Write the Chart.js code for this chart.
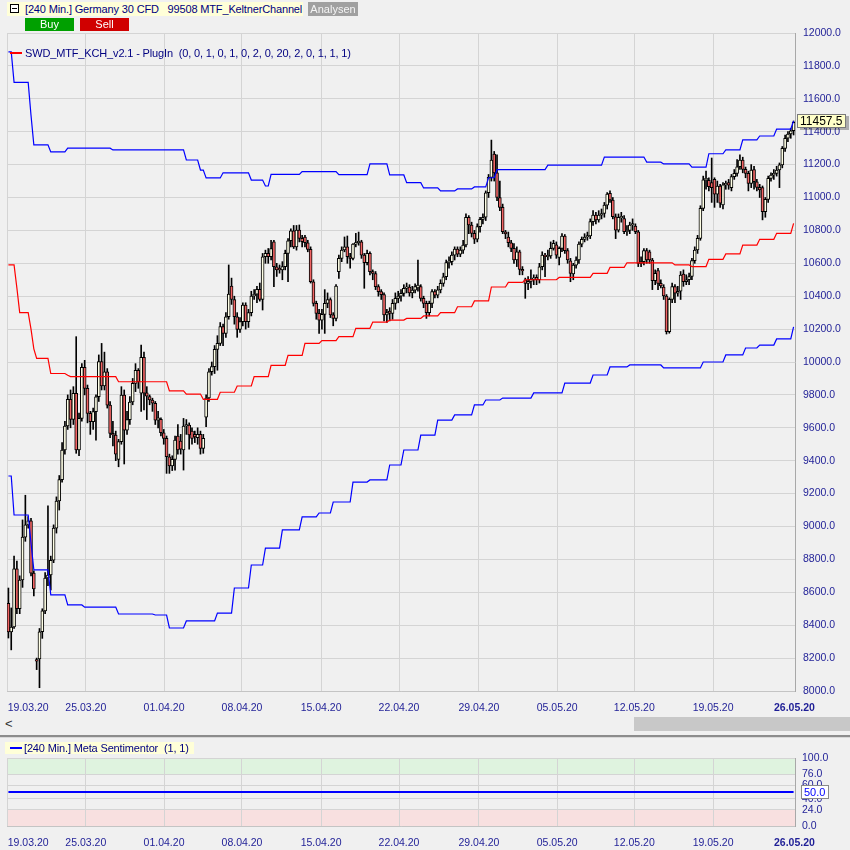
<!DOCTYPE html>
<html>
<head>
<meta charset="utf-8">
<script src="https://cdn.jsdelivr.net/npm/chart.js@4.4.1/dist/chart.umd.min.js"></script>
<style>
  html, body { margin: 0; padding: 0; width: 850px; height: 850px; overflow: hidden; background: #f0f0f0;
    font-family: "Liberation Sans", Arial, sans-serif; }
  canvas { position: absolute; left: 0; }
  #mainChart { top: 0; }
  #subChart { top: 738px; }
  .abs { position: absolute; white-space: pre; }
  .hdr { left: 7px; top: 2px; width: 296px; height: 14px; background: #ffffd8; color: #000080; font-size: 11px; letter-spacing: -0.15px; line-height: 14px; }
  .icon { left: 10px; top: 4px; width: 7px; height: 7px; border: 1px solid #000; background: #fff; }
  .icon:after { content: ""; position: absolute; left: 1px; top: 3px; width: 5px; height: 1px; background: #000; }
  .btn { height: 13px; font-size: 11px; line-height: 13px; text-align: center; color: #fff; }
  .legend { color: #000080; font-size: 11px; letter-spacing: -0.15px; line-height: 14px; }
</style>
</head>
<body>
<canvas id="mainChart" width="850" height="713"></canvas>
<canvas id="subChart" width="850" height="112"></canvas>

<div class="abs hdr"><span style="margin-left:18px">[240 Min.] Germany 30 CFD   99508 MTF_KeltnerChannel</span></div>
<div class="abs icon"></div>
<div class="abs btn" style="left:308px;top:2px;width:50px;height:14px;line-height:14px;background:#a0a0a0;color:#f4f4f4;">Analysen</div>
<div class="abs btn" style="left:25px;top:18px;width:49px;background:#00a000;">Buy</div>
<div class="abs btn" style="left:80px;top:18px;width:49px;background:#d00000;">Sell</div>

<div class="abs" style="left:10px;top:52px;width:12px;height:2px;background:#ff0000;"></div>
<div class="abs legend" style="left:25px;top:46px;">SWD_MTF_KCH_v2.1 - PlugIn  (0, 0, 1, 0, 1, 0, 2, 0, 20, 2, 0, 1, 1, 1)</div>

<div class="abs" style="left:0;top:716px;width:850px;height:16px;background:#f0f0f0;"></div>
<div class="abs" style="left:634px;top:717px;width:216px;height:14px;background:#c8c8c8;"></div>
<div class="abs" style="left:5px;top:716px;font-size:13px;color:#333;">&lt;</div>
<div class="abs" style="left:0;top:735px;width:850px;height:2px;background:#8c8c8c;"></div>
<div class="abs" style="left:0;top:737px;width:850px;height:1px;background:#d8d8d8;"></div>

<div class="abs" style="left:5px;top:742px;width:189px;height:12px;background:#ffffd8;"></div>
<div class="abs" style="left:10px;top:747px;width:12px;height:2px;background:#0000ff;"></div>
<div class="abs legend" style="left:24px;top:741px;">[240 Min.] Meta Sentimentor  (1, 1)</div>

<script>
// 240-min candles (bar index 0 .. 278)
const opens = [8533,8359,8389,8742,8500,8675,8935,9010,9035,8717,
  8190,8195,8360,8487,8687,8705,8795,8990,9155,9285,
  9465,9611,9773,9651,9809,9465,9657,9967,9840,9688,
  9637,9698,9789,10002,9854,9940,9738,9566,9556,9408,
  9516,9799,9586,9650,9757,9870,9950,9810,10028,9813,
  9790,9769,9748,9647,9651,9570,9536,9424,9368,9408,
  9550,9520,9465,9611,9617,9580,9560,9540,9560,9475,
  9664,9781,9941,9972,10077,10113,10215,10174,10275,10462,
  10380,10275,10198,10245,10346,10245,10300,10401,10412,10442,
  10381,10640,10660,10640,10731,10579,10570,10560,10580,10660,
  10737,10798,10700,10802,10752,10760,10725,10685,10488,10356,
  10296,10255,10290,10356,10380,10286,10265,10549,10630,10681,
  10700,10640,10630,10717,10725,10730,10650,10604,10660,10549,
  10538,10458,10428,10410,10286,10310,10296,10356,10387,10400,
  10417,10448,10455,10420,10437,10450,10458,10387,10356,10300,
  10356,10428,10407,10438,10478,10518,10604,10610,10650,10687,
  10656,10680,10711,10879,10833,10782,10746,10823,10867,10880,
  11029,11122,11264,11150,11000,10940,10792,10760,10725,10691,
  10620,10670,10563,10500,10478,10490,10502,10515,10500,10579,
  10650,10640,10645,10691,10712,10636,10691,10766,10677,10615,
  10535,10589,10620,10717,10745,10760,10766,10853,10893,10863,
  10893,10903,10954,11025,10985,10883,10802,10876,10872,10792,
  10800,10833,10826,10792,10600,10610,10677,10670,10620,10494,
  10555,10478,10455,10401,10185,10381,10458,10418,10430,10535,
  10488,10500,10520,10616,10681,10752,10934,11107,11105,11090,
  11110,11021,11070,10955,11077,11090,11060,11127,11147,11187,
  11228,11171,11147,11086,11170,11096,11062,11060,10914,10989,
  11116,11137,11147,11167,11198,11299,11360,11386,11406];

const highs = [8626,8505,8820,8790,8700,9040,9190,9060,9050,8730,
  8200,8380,8500,8720,9125,8820,9010,9180,9310,9510,
  9640,9800,9830,9850,10154,9690,9990,10010,9860,9700,
  9720,9800,10043,10113,10060,9960,9760,9640,9580,9530,
  9850,9830,9700,9790,9900,9990,9960,10103,10060,9850,
  9800,9780,9760,9700,9660,9590,9550,9440,9430,9550,
  9620,9560,9657,9650,9630,9600,9580,9600,9580,9560,
  9800,9960,10000,10100,10160,10240,10230,10300,10590,10510,
  10400,10300,10270,10360,10360,10320,10430,10440,10460,10480,
  10660,10680,10690,10740,10740,10600,10590,10610,10680,10750,
  10810,10830,10830,10833,10770,10770,10740,10700,10500,10370,
  10320,10320,10440,10420,10390,10300,10470,10650,10700,10760,
  10766,10660,10720,10782,10790,10740,10660,10680,10670,10560,
  10550,10470,10440,10420,10320,10330,10380,10420,10430,10440,
  10470,10480,10470,10460,10475,10620,10470,10400,10370,10370,
  10440,10440,10460,10500,10540,10620,10640,10670,10700,10700,
  10700,10740,10900,10890,10850,10800,10840,10880,10900,11040,
  11140,11349,11280,11260,11100,10960,10800,10790,10740,10720,
  10700,10680,10580,10510,10520,10560,10530,10530,10600,10670,
  10660,10680,10730,10740,10730,10700,10780,10775,10690,10630,
  10600,10640,10730,10760,10780,10790,10870,10920,10910,10920,
  10930,10970,11030,11040,11000,10900,10900,10910,10890,10830,
  10850,10870,10840,10800,10640,10690,10690,10680,10630,10560,
  10570,10500,10470,10410,10390,10480,10470,10460,10550,10560,
  10530,10540,10630,10700,10770,10950,11130,11160,11120,11240,
  11120,11100,11080,11090,11100,11110,11140,11170,11230,11260,
  11245,11185,11160,11200,11190,11110,11080,11070,11000,11130,
  11150,11170,11190,11210,11310,11380,11400,11420,11465];

const lows = [8322,8250,8380,8470,8470,8630,8910,8990,8700,8578,
  8130,8020,8320,8470,8640,8614,8780,8960,9100,9270,
  9440,9590,9600,9620,9445,9430,9640,9800,9630,9560,
  9590,9525,9760,9830,9830,9720,9540,9490,9400,9363,
  9500,9380,9560,9620,9740,9820,9840,9700,9708,9650,
  9740,9700,9620,9600,9550,9500,9323,9323,9340,9343,
  9440,9440,9343,9560,9470,9500,9510,9500,9440,9445,
  9607,9760,9920,9930,9950,10100,10100,10150,10260,10350,
  10230,10150,10180,10220,10200,10210,10280,10380,10360,10370,
  10316,10600,10600,10620,10458,10520,10540,10500,10560,10488,
  10700,10690,10680,10730,10700,10700,10670,10480,10340,10260,
  10174,10200,10174,10330,10270,10220,10250,10508,10610,10670,
  10600,10570,10620,10700,10710,10630,10448,10590,10530,10500,
  10440,10400,10380,10250,10240,10250,10260,10320,10360,10370,
  10400,10420,10400,10390,10420,10430,10370,10330,10265,10280,
  10330,10390,10390,10420,10460,10500,10570,10590,10620,10640,
  10640,10660,10700,10780,10760,10720,10730,10790,10840,10860,
  11000,11100,11100,10980,10920,10780,10750,10700,10670,10600,
  10580,10530,10530,10387,10440,10450,10470,10470,10480,10560,
  10518,10620,10630,10680,10630,10590,10670,10660,10600,10488,
  10500,10570,10600,10700,10730,10740,10750,10830,10840,10850,
  10870,10880,10930,10970,10870,10750,10790,10850,10780,10770,
  10780,10800,10780,10580,10580,10590,10600,10600,10440,10470,
  10440,10450,10380,10170,10175,10360,10360,10400,10380,10460,
  10470,10470,10500,10600,10660,10740,10920,11050,11040,10970,
  10940,10970,10940,10930,11050,11050,11040,11110,11130,11170,
  11150,11120,11040,11060,11050,11040,11000,10864,10880,10970,
  11100,11110,11130,11060,11180,11280,11340,11360,11380];

const closes = [8359,8389,8742,8500,8675,8935,9010,9035,8717,8620,
  8182,8360,8487,8687,8705,8795,8990,9155,9285,9465,
  9611,9773,9651,9809,9465,9657,9967,9840,9688,9637,
  9698,9789,10002,9854,9940,9738,9566,9556,9440,9516,
  9799,9586,9650,9757,9870,9950,9880,10028,9810,9793,
  9769,9749,9647,9660,9570,9536,9424,9368,9408,9526,
  9465,9470,9611,9617,9556,9536,9545,9560,9475,9536,
  9781,9941,9972,10077,10113,10215,10174,10275,10413,10380,
  10275,10198,10245,10346,10245,10300,10401,10412,10442,10381,
  10640,10660,10640,10690,10579,10559,10560,10580,10660,10737,
  10798,10700,10802,10752,10732,10725,10685,10488,10356,10296,
  10255,10290,10356,10380,10286,10265,10462,10630,10681,10700,
  10640,10630,10717,10725,10730,10650,10604,10660,10549,10538,
  10458,10428,10410,10286,10300,10296,10356,10387,10400,10417,
  10448,10455,10420,10437,10458,10468,10387,10356,10300,10356,
  10428,10407,10438,10478,10518,10604,10610,10650,10687,10656,
  10680,10711,10879,10833,10782,10746,10823,10867,10880,11029,
  11122,11228,11150,11000,10940,10792,10778,10725,10691,10620,
  10670,10563,10553,10478,10490,10502,10510,10500,10579,10650,
  10640,10645,10691,10721,10650,10691,10766,10677,10620,10539,
  10589,10620,10717,10745,10760,10766,10853,10893,10863,10893,
  10903,10954,11021,10985,10883,10802,10880,10882,10792,10800,
  10833,10840,10792,10600,10610,10677,10620,10620,10494,10539,
  10478,10462,10401,10185,10381,10458,10418,10430,10529,10488,
  10500,10520,10616,10681,10752,10934,11107,11110,11066,11060,
  11021,11070,10966,11077,11086,11075,11127,11147,11187,11228,
  11171,11147,11086,11167,11096,11062,11046,10914,10989,11116,
  11137,11147,11167,11198,11299,11360,11386,11406,11457.5];

// Keltner channel steps: [first bar, last bar, level]
const upperSteps = [[0,1,11885],[2,7,11700],[8,8,11500],[9,14,11320],[15,20,11277],[21,36,11300],
  [37,62,11289],[63,67,11228],[68,69,11167],[70,75,11119],[76,85,11150],[86,90,11106],[91,92,11070],
  [93,103,11140],[104,116,11157],[117,127,11139],[128,134,11204],[135,140,11137],[141,146,11090],
  [147,152,11058],[153,158,11040],[159,164,11052],[165,169,11064],[170,172,11120],[173,190,11170],
  [191,210,11197],[211,225,11246],[226,231,11215],[232,241,11204],[242,247,11185],[248,253,11266],
  [254,259,11289],[260,265,11350],[266,271,11374],[272,277,11416],[278,278,11465]];

const middleSteps = [[0,2,10590],[3,3,10450],[4,7,10300],[8,8,10200],[9,9,10080],[10,14,10022],
  [15,20,9930],[21,21,9920],[22,38,9911],[39,56,9880],[57,62,9824],[63,68,9805],[69,74,9773],
  [75,80,9816],[81,86,9854],[87,92,9911],[93,98,9980],[99,104,10040],[105,110,10113],[111,116,10130],
  [117,122,10154],[123,128,10205],[129,134,10243],[135,140,10255],[141,146,10265],[147,152,10280],
  [153,158,10300],[159,164,10336],[165,170,10371],[171,176,10456],[177,182,10484],[183,194,10500],
  [195,206,10514],[207,212,10539],[213,218,10575],[219,235,10603],[236,241,10590],[242,247,10580],
  [248,253,10624],[254,259,10657],[260,265,10711],[266,271,10746],[272,277,10782],[278,278,10843]];

const lowerSteps = [[0,1,9307],[2,7,9070],[8,8,8900],[9,14,8736],[15,20,8584],[21,26,8523],
  [27,38,8510],[39,51,8468],[52,56,8462],[57,62,8383],[63,73,8426],[74,79,8474],[80,85,8626],
  [86,90,8766],[91,96,8869],[97,103,8979],[104,109,9058],[110,114,9082],[115,121,9149],[122,127,9270],
  [128,134,9283],[135,139,9374],[140,145,9465],[146,151,9556],[152,157,9647],[158,164,9678],
  [165,168,9739],[169,174,9769],[175,185,9781],[186,196,9812],[197,206,9872],[207,212,9921],
  [213,219,9970],[220,231,9982],[232,245,9964],[246,253,10000],[254,260,10043],[261,265,10085],
  [266,271,10103],[272,277,10140],[278,278,10213]];

// Meta Sentimentor (flat at 50 over the whole range)
const sentimentIdx = [0, 278];
const sentimentVal = [50, 50];

// axis labels
const dateLabels = ['19.03.20','25.03.20','01.04.20','08.04.20','15.04.20','22.04.20',
  '29.04.20','05.05.20','12.05.20','19.05.20','26.05.20'];
const dateIdx = [7, 27.4, 55.1, 82.7, 110.7, 138.3, 166.6, 194.3, 221.6, 249.5, 278.3];
const priceTicks = [8000,8200,8400,8600,8800,9000,9200,9400,9600,9800,10000,
  10200,10400,10600,10800,11000,11200,11400,11600,11800,12000];
const sentTicks = [0, 24, 40, 60, 76, 100];

const N = closes.length;
const TXT = '#1e1e96';
const GRID = '#d4d4d4';
Chart.defaults.font.family = '"Liberation Sans", Arial, sans-serif';
Chart.defaults.font.size = 10.5;

function stepPoints(steps) {
  const pts = [];
  steps.forEach(s => {
    pts.push({x: s[0], y: s[2]});
    if (s[1] !== s[0]) pts.push({x: s[1], y: s[2]});
  });
  return pts;
}

function xAxis(height, pad) {
  const last = dateIdx.length - 1;
  return {
    type: 'linear', min: -0.5, max: N - 0.5, offset: false,
    afterBuildTicks: s => { s.ticks = dateIdx.map(v => ({value: v})); },
    afterFit: s => { s.height = height; s.paddingLeft = 0; s.paddingRight = 0; },
    grid: { drawTicks: false, offset: false,
      color: c => (c.index === 0 || c.index === last) ? 'rgba(0,0,0,0)' : GRID },
    border: { display: true, color: '#c4c4c4' },
    ticks: { autoSkip: false, maxRotation: 0, padding: pad, color: TXT,
      font: c => ({ size: 10.5, weight: c.index === last ? 'bold' : 'normal' }),
      callback: (v, i) => dateLabels[i] }
  };
}

function yAxis(min, max, values, pad) {
  return {
    position: 'right', min: min, max: max,
    afterBuildTicks: s => { s.ticks = values.map(v => ({value: v})); },
    afterFit: s => { s.width = 55; s.paddingTop = 0; s.paddingBottom = 0; },
    ticks: { autoSkip: false, padding: pad, color: TXT, callback: v => Number(v).toFixed(1) },
    grid: { drawTicks: false, color: GRID },
    border: { display: true, color: '#a8a8a8' }
  };
}

// left frame line
const frame = {
  id: 'frame',
  beforeDatasetsDraw(chart) {
    const a = chart.chartArea, ctx = chart.ctx;
    ctx.save();
    ctx.strokeStyle = GRID;
    ctx.lineWidth = 1;
    ctx.beginPath();
    ctx.moveTo(a.left + 0.5, a.top);
    ctx.lineTo(a.left + 0.5, a.bottom);
    ctx.stroke();
    ctx.restore();
  }
};

// last price box
const priceBox = {
  id: 'priceBox',
  afterDraw(chart) {
    const ctx = chart.ctx;
    const v = closes[N - 1];
    const y = Math.round(chart.scales.y.getPixelForValue(v)) - 1;
    ctx.save();
    ctx.fillStyle = 'rgba(0,0,0,0.28)';
    ctx.fillRect(800, y - 5, 49, 14);
    ctx.fillStyle = '#ffffc8';
    ctx.fillRect(797, y - 7, 49, 14);
    ctx.strokeStyle = '#7a7a7a';
    ctx.lineWidth = 1;
    ctx.strokeRect(797.5, y - 6.5, 48, 13);
    ctx.fillStyle = '#000';
    ctx.font = '12px "Liberation Sans", Arial, sans-serif';
    ctx.textBaseline = 'middle';
    ctx.fillText(v.toFixed(1), 800, y + 0.5);
    ctx.restore();
  }
};

new Chart(document.getElementById('mainChart'), {
  type: 'bar',
  data: {
    datasets: [
      { type: 'line', data: stepPoints(upperSteps), borderColor: '#0000ff', borderWidth: 1.2, pointRadius: 0, tension: 0 },
      { type: 'line', data: stepPoints(middleSteps), borderColor: '#ff0000', borderWidth: 1.2, pointRadius: 0, tension: 0 },
      { type: 'line', data: stepPoints(lowerSteps), borderColor: '#0000ff', borderWidth: 1.2, pointRadius: 0, tension: 0 },
      { data: opens.map((o, i) => ({x: i, y: [o, closes[i]]})),
        backgroundColor: opens.map((o, i) => closes[i] >= o ? '#ffffe6' : '#f06464'),
        borderColor: '#000000', borderWidth: 1, borderSkipped: false,
        barThickness: 3, minBarLength: 1.5, grouped: false },
      { data: lows.map((l, i) => ({x: i, y: [l, highs[i]]})),
        backgroundColor: '#000000', borderWidth: 0, barThickness: 1, grouped: false }
    ]
  },
  options: {
    responsive: false, animation: false, events: [],
    layout: { padding: { left: 7, right: 0, top: 33, bottom: 0 } },
    plugins: { legend: { display: false }, tooltip: { enabled: false } },
    scales: {
      x: xAxis(22, 11),
      y: yAxis(8000, 12000, priceTicks, 8)
    }
  },
  plugins: [frame, priceBox]
});

// green / red zones and the 50 box of the lower panel
const zones = {
  id: 'zones',
  beforeDraw(chart) {
    const a = chart.chartArea, y = chart.scales.y, ctx = chart.ctx;
    ctx.save();
    ctx.fillStyle = '#dff3df';
    ctx.fillRect(a.left, y.getPixelForValue(100), a.right - a.left, y.getPixelForValue(76) - y.getPixelForValue(100));
    ctx.fillStyle = '#f8e0e0';
    ctx.fillRect(a.left, y.getPixelForValue(24), a.right - a.left, y.getPixelForValue(0) - y.getPixelForValue(24));
    ctx.restore();
  },
  afterDraw(chart) {
    const ctx = chart.ctx;
    const v = sentimentVal[sentimentVal.length - 1];
    const y = Math.round(chart.scales.y.getPixelForValue(v));
    ctx.save();
    ctx.fillStyle = '#ffffff';
    ctx.fillRect(801, y - 7, 28, 14);
    ctx.strokeStyle = '#8a8a8a';
    ctx.lineWidth = 1;
    ctx.strokeRect(801.5, y - 6.5, 27, 13);
    ctx.fillStyle = '#0000ff';
    ctx.font = '11px "Liberation Sans", Arial, sans-serif';
    ctx.textBaseline = 'middle';
    ctx.fillText(v.toFixed(1), 804, y + 0.5);
    ctx.restore();
  }
};

new Chart(document.getElementById('subChart'), {
  type: 'line',
  data: {
    datasets: [
      { data: sentimentIdx.map((x, i) => ({x: x, y: sentimentVal[i]})),
        borderColor: '#0000ff', borderWidth: 2, pointRadius: 0 }
    ]
  },
  options: {
    responsive: false, animation: false, events: [],
    layout: { padding: { left: 7, right: 0, top: 20, bottom: 0 } },
    plugins: { legend: { display: false }, tooltip: { enabled: false } },
    scales: {
      x: xAxis(24, 11),
      y: yAxis(0, 100, sentTicks, 7)
    }
  },
  plugins: [frame, zones]
});
</script>
</body>
</html>
